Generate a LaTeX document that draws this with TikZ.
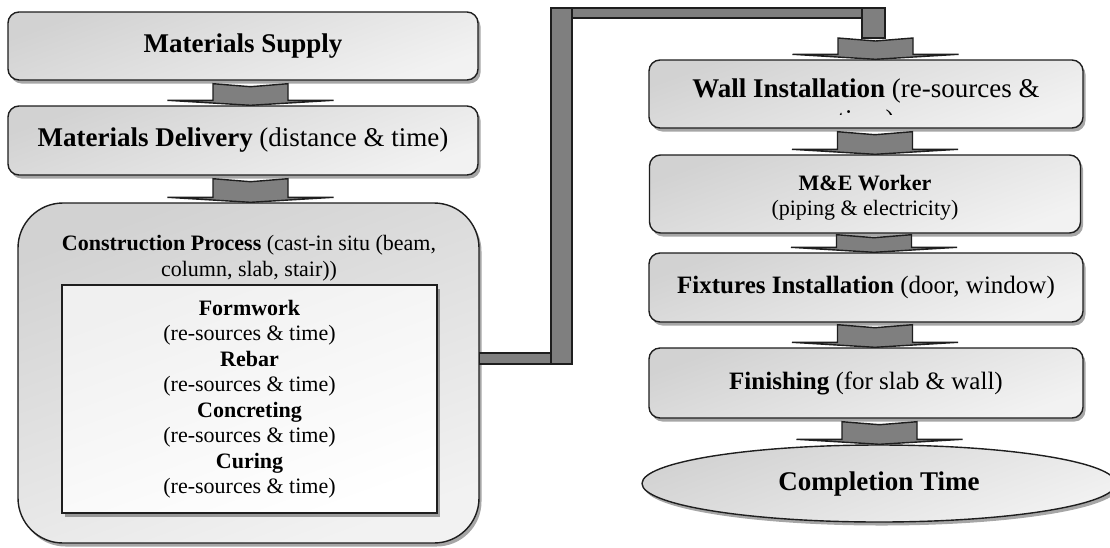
\documentclass[tikz,border=0pt]{standalone}
\usepackage{fontspec}
\setmainfont{Liberation Serif}
\usetikzlibrary{shadows,calc,shapes.geometric}

\definecolor{edge}{HTML}{1E1E1E}
\definecolor{barfill}{HTML}{7F7F7F}
\definecolor{boxtop}{HTML}{D2D2D2}
\definecolor{boxbot}{HTML}{F2F2F2}

\tikzset{
  stage/.style={draw=edge, line width=1.4pt, rounded corners=11pt,
    top color=boxtop, bottom color=boxbot, shading angle=20,
    drop shadow={shadow xshift=2.5pt, shadow yshift=-3.5pt, fill=black, opacity=0.35},
    inner sep=0pt, align=center, text=black},
  tasklist/.style={draw=edge, line width=1.4pt,
    top color=gray!12, bottom color=white, shading angle=20,
    drop shadow={shadow xshift=2.5pt, shadow yshift=-3.5pt, fill=black, opacity=0.35},
    inner sep=0pt, align=center},
  bar/.style={draw=edge, line width=1.4pt, fill=barfill},
  chev/.style={draw=edge, line width=1.4pt, fill=barfill, line join=miter},
  big/.style={font=\fontsize{27}{31}\selectfont},
  mid/.style={font=\fontsize{25}{29}\selectfont},
  small/.style={font=\fontsize{22}{25.5}\selectfont},
}

% block arrow: #1 = top centre of the shaft, #2 = point whose height is the tip
\newcommand{\chev}[2]{%
  \draw[chev] let \p1=#1, \p2=#2 in
    ({\x1-37.5pt},{\y1}) -- ({\x1},{\y1-3pt}) -- ({\x1+37.5pt},{\y1})
    -- ({\x1+37.5pt},{\y2+5pt}) -- ({\x1+83pt},{\y2+5pt}) -- ({\x1},{\y2})
    -- ({\x1-83pt},{\y2+5pt}) -- ({\x1-37.5pt},{\y2+5pt}) -- cycle;}

\begin{document}
\begin{tikzpicture}[x=1pt,y=-1pt]
\fill[white] (0,0) rectangle (1110,547);
\useasboundingbox (0,0) rectangle (1110,547);

% left column
\node[stage, big, minimum width=470pt, minimum height=68pt] (supply) at (243,46)
  {\textbf{Materials Supply}};
\node[stage, big, minimum width=470pt, minimum height=69pt] (delivery) at (243,140.5)
  {\textbf{Materials Delivery} (distance \& time)};
\node[stage, rounded corners=45pt, minimum width=461pt, minimum height=340pt] (cp) at (248.5,373) {};
\node[small, align=center] (cptitle) at (249,258)
  {\textbf{Construction Process} (cast-in situ (beam,\\column, slab, stair))};
\node[tasklist, small, minimum width=375pt, minimum height=228pt] (tasks) at (249.5,399)
  {\textbf{Formwork}\\(re-sources \& time)\\\textbf{Rebar}\\(re-sources \& time)\\
   \textbf{Concreting}\\(re-sources \& time)\\\textbf{Curing}\\(re-sources \& time)};

% right column
\node[stage, minimum width=434pt, minimum height=68pt] (wall) at (866,94) {};
\node[big] (walltext) at (866,91) {\textbf{Wall Installation} (re-sources \&};
\begin{scope}
  \clip (800,104) rectangle (935,114);
  \node[big, anchor=base] (walltail) at (866,128.5) {time)};
\end{scope}
\node[stage, minimum width=431pt, minimum height=78pt] (me) at (865,194) {};
\node[small, align=center] (metext) at (865,197.5)
  {\textbf{M\&E Worker}\\(piping \& electricity)};
\node[stage, mid, minimum width=434pt, minimum height=69pt] (fix) at (866,287.5)
  {\textbf{Fixtures Installation} (door, window)};
\node[stage, mid, minimum width=434pt, minimum height=70pt] (fin) at (866,383)
  {\textbf{Finishing} (for slab \& wall)};
\node[stage, ellipse, big, minimum width=474pt, minimum height=77pt] (done) at (879,483.5)
  {\textbf{Completion Time}};

% elbow link from the construction stage to the wall stage
\coordinate (jlow) at (561.5,358.5);
\coordinate (jtopL) at (561.5,13);
\coordinate (jtopR) at (873.5,13);
\coordinate (jfoot) at (873.5,38);
\draw[bar] ($(jtopL)+(-10.5,-5)$) rectangle ($(jtopR)+(11.5,5)$);
\draw[bar] ($(cp.east|-jlow)+(0,-5.5)$) rectangle ($(jlow)+(0,5.5)$);
\draw[bar] ($(jtopL)+(-10.5,-5)$) rectangle ($(jlow)+(10.5,5.5)$);
\draw[bar] ($(jtopR)+(-11.5,-5)$) rectangle ($(jfoot)+(11.5,0)$);

% block arrows between stages
\chev{($(supply.south)+(7.5,3)$)}{(delivery.north)}
\chev{($(delivery.south)+(7.5,3)$)}{(cp.north)}
\chev{($(jfoot)+(2,0)$)}{(wall.north)}
\chev{($(wall.south)+(9,3)$)}{(me.north)}
\chev{($(me.south)+(9,1)$)}{(fix.north)}
\chev{($(fix.south)+(9,2)$)}{(fin.north)}
\chev{($(fin.south)+(13.5,3)$)}{(done.north)}
\end{tikzpicture}
\end{document}
